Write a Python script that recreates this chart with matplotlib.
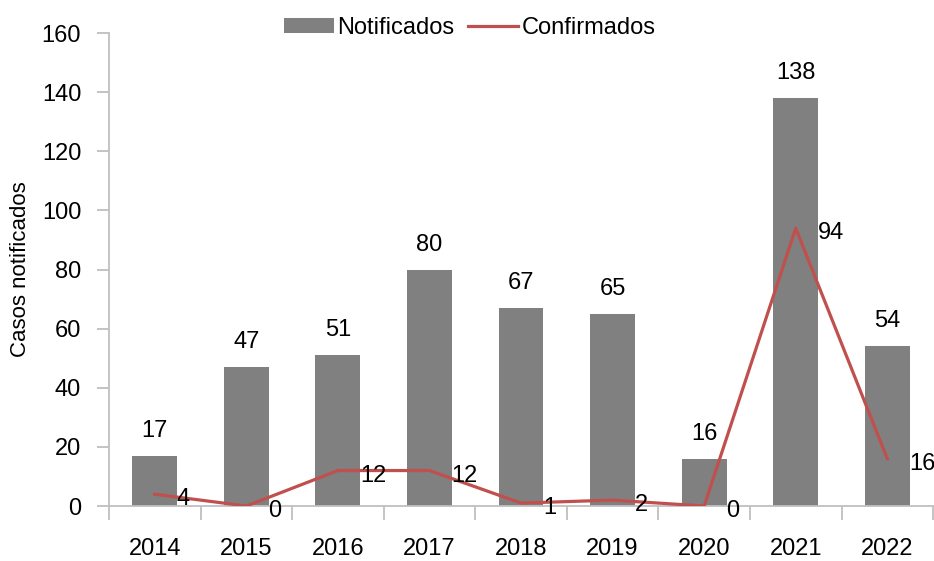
import numpy as np
import matplotlib.pyplot as plt
from matplotlib.ticker import FixedLocator

plt.rcParams['font.family'] = ['Liberation Sans', 'DejaVu Sans']

# dados
anos = ['2014', '2015', '2016', '2017', '2018', '2019', '2020', '2021', '2022']
notificados = [17, 47, 51, 80, 67, 65, 16, 138, 54]
confirmados = [4, 0, 12, 12, 1, 2, 0, 94, 16]

cor_barra = '#808080'
cor_linha = '#C0504D'
cor_eixo = '#BFBFBF'

fig = plt.figure(figsize=(9.34, 5.61), dpi=100)
ax = fig.add_axes([0.1167, 0.098, 0.8823, 0.843])

x = np.arange(len(anos))
barras = ax.bar(x, notificados, width=0.49, color=cor_barra, label='Notificados', zorder=2)
linha, = ax.plot(x, confirmados, color=cor_linha, lw=2.3, label='Confirmados', zorder=3)

# rótulos das barras
for xi, v in zip(x, notificados):
    ax.annotate(str(v), (xi, v), xytext=(0, 14), textcoords='offset pixels',
                ha='center', va='bottom', fontsize=17)

# rótulos da linha
for xi, v in zip(x, confirmados):
    ax.annotate(str(v), (xi, v), xytext=(22, -5), textcoords='offset pixels',
                ha='left', va='center', fontsize=17, zorder=4)

ax.set_xlim(-0.5, len(anos) - 0.5)
ax.set_ylim(0, 160)
ax.set_yticks(range(0, 161, 20))
ax.set_xticks(x)
ax.set_xticklabels(anos)
ax.xaxis.set_minor_locator(FixedLocator(np.arange(-0.5, len(anos), 1)))

ax.tick_params(axis='x', which='major', length=0, pad=23, labelsize=17)
ax.tick_params(axis='x', which='minor', length=10, width=1.3, color=cor_eixo, direction='out')
ax.tick_params(axis='y', length=9, width=1.3, color=cor_eixo, pad=11, labelsize=17)

for s in ['top', 'right']:
    ax.spines[s].set_visible(False)
for s in ['left', 'bottom']:
    ax.spines[s].set_color(cor_eixo)
    ax.spines[s].set_linewidth(1.3)

ax.set_ylabel('Casos notificados', fontsize=16, labelpad=8)

ax.legend([barras, linha], ['Notificados', 'Confirmados'],
          loc='center', bbox_to_anchor=(0.503, 0.95), bbox_transform=fig.transFigure,
          ncol=2, frameon=False, fontsize=17, handlelength=2.1, handleheight=0.6,
          handletextpad=0.15, columnspacing=0.6, borderpad=0)

fig.savefig('out.png', dpi=100)
